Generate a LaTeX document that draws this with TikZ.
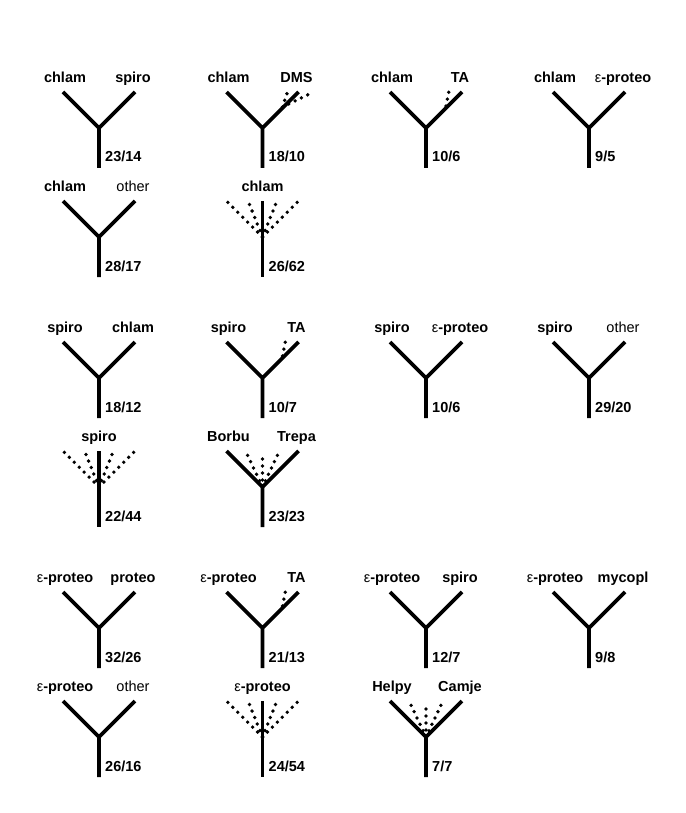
\documentclass[tikz,border=0pt]{standalone}
\usepackage{fontspec}
\setmainfont{Liberation Sans}
\usepackage{tikz}
\usetikzlibrary{calc}

\newcommand{\epsproteo}{{\mdseries ε}-proteo}
\newcommand{\othertxt}{{\mdseries other}}

\begin{document}
\begin{tikzpicture}[x=1pt,y=-1pt,
    every node/.style={inner sep=0pt,anchor=base,font=\fontsize{14.5}{17}\selectfont\bfseries},
    arm/.style={line width=3.8pt},
    dots/.style={line width=3.8pt,line cap=round,dash pattern=on 0pt off 7pt},
    num/.style={anchor=base west}]
  \useasboundingbox (0,0) rectangle (685,813);

  % plain trees
  \foreach \n/\x/\y/\l/\r/\v/\w in {
      a/99/128/chlam/spiro/23/14,
      b/262.5/128/chlam/DMS/18/10,
      c/426/128/chlam/TA/10/6,
      d/589/128/chlam/\epsproteo/9/5,
      e/99/237/chlam/\othertxt/28/17,
      g/99/378/spiro/chlam/18/12,
      h/262.5/378/spiro/TA/10/7,
      i/426/378/spiro/\epsproteo/10/6,
      k/589/378/spiro/\othertxt/29/20,
      m/262.5/487/Borbu/Trepa/23/23,
      o/99/628/\epsproteo/proteo/32/26,
      p/262.5/628/\epsproteo/TA/21/13,
      q/426/628/\epsproteo/spiro/12/7,
      r/589/628/\epsproteo/mycopl/9/8,
      s/99/737/\epsproteo/\othertxt/26/16,
      u/426/737/Helpy/Camje/7/7} {
    \coordinate (j\n) at (\x,\y);
    \coordinate (l\n) at (\x-36,\y-36);
    \coordinate (r\n) at (\x+36,\y-36);
    \coordinate (b\n) at (\x,\y+40);
    \draw[arm] (l\n) -- (j\n) -- (r\n) (j\n) -- (b\n);
    \node (tl\n) at (\x-34,\y-45.5) {\l};
    \node (tr\n) at (\x+34,\y-45.5) {\r};
    \node[num] (nm\n) at (\x+6,\y+34) {\v/\w};
  }

  % fans
  \foreach \n/\x/\y/\l/\v/\w in {
      f/262.5/237/chlam/26/62,
      l/99/487/spiro/22/44,
      t/262.5/737/\epsproteo/24/54} {
    \coordinate (j\n) at (\x,\y);
    \coordinate (t\n) at (\x,\y-36);
    \coordinate (b\n) at (\x,\y+40);
    \draw[arm] (t\n) -- (b\n);
    \foreach \d in {-35,-14,14,35} {
      \coordinate (f\n\d) at (\x+\d,\y-35);
      \draw[dots] (j\n) -- (f\n\d);
    }
    \node (tl\n) at (\x,\y-45.5) {\l};
    \node[num] (nm\n) at (\x+6,\y+34) {\v/\w};
  }

  % dotted inner branches
  \foreach \n in {m,u} {
    \foreach \d in {-16,0,16} {
      \coordinate (i\n\d) at ($(j\n)+(\d,-34)$);
      \draw[dots] (j\n) -- (i\n\d);
    }
  }

  % TA side branch
  \foreach \n in {c,h,p} {
    \coordinate (sa\n) at ($(j\n)+(20,-22)$);
    \coordinate (sb\n) at ($(j\n)+(23,-37)$);
    \draw[dots] (sa\n) -- (sb\n);
  }

  % DMS side branches
  \coordinate (dsa) at ($(jb)+(20,-21)$);
  \coordinate (dsb) at ($(jb)+(25,-36)$);
  \coordinate (dsc) at ($(jb)+(47,-34)$);
  \draw[dots] (dsa) -- (dsb) (dsa) -- (dsc);
\end{tikzpicture}
\end{document}
